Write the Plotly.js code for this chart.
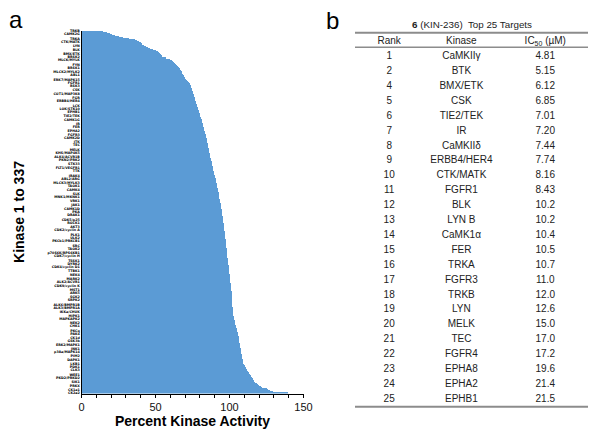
<!DOCTYPE html>
<html>
<head>
<meta charset="utf-8">
<script src="https://cdn.plot.ly/plotly-3.0.1.min.js"></script>
<style>html,body{margin:0;padding:0;background:#fff}#chart{width:601px;height:438px}</style>
</head>
<body>
<div id="chart"></div>
<script>
// ---- Panel a: percent kinase activity, kinases 1..337 (top = most inhibited) ----
const activity = [
14.5, 17.2, 19.0, 20.6, 22.4, 25.1, 28.0, 31.5, 36.0,
37.1, 38.2, 39.6, 40.8, 42.0, 43.3, 44.7, 46.0,
48.2, 50.1, 51.6, 52.3, 52.9, 53.4, 53.9, 54.3, 57.0, 59.7,
60.6, 61.4, 62.2, 63.0, 63.6, 64.2, 64.8, 65.3, 65.9, 66.4,
66.8, 67.3, 67.7, 68.1, 68.6, 69.0, 69.4, 69.8, 70.5, 71.2, 71.8, 72.3, 72.8, 73.2,
73.5, 73.7, 74.0, 74.2, 74.5, 74.7, 75.0, 75.2, 75.4, 75.6, 75.9, 76.1, 76.3, 76.6, 76.8, 77.0, 77.2, 77.4, 77.7, 77.9,
78.1, 78.4, 78.6, 78.8, 79.0, 79.3, 79.5, 79.7, 79.9,
80.2, 80.5, 80.8, 81.1, 81.2, 81.3, 81.5, 81.6, 81.8, 81.9,
82.1, 82.4, 82.6, 82.9, 83.1, 83.3, 83.5, 83.7, 83.9,
84.0, 84.2, 84.3, 84.5, 84.6, 84.8, 84.9, 85.0, 85.2, 85.3,
85.5, 85.6, 85.8, 86.0, 86.1, 86.3, 86.5, 86.6, 86.8, 87.0, 87.1, 87.3, 87.5, 87.6, 87.8,
88.0, 88.1, 88.3, 88.5, 88.7, 88.8, 89.0, 89.2, 89.3, 89.5, 89.7, 89.8, 90.0,
90.2, 90.3, 90.5, 90.7, 90.8, 91.0, 91.2, 91.3, 91.5, 91.7, 91.8, 92.0,
92.1, 92.3, 92.4, 92.5, 92.7, 92.8, 92.9, 93.1, 93.2, 93.3, 93.4, 93.6, 93.7, 93.8, 94.0, 94.1, 94.2, 94.4, 94.5,
94.6, 94.7, 94.8, 94.9, 95.0, 95.1, 95.2, 95.3, 95.4, 95.5, 95.6, 95.7, 95.8, 95.9, 96.0, 96.1, 96.1, 96.2, 96.3, 96.4, 96.5, 96.6, 96.6, 96.7, 96.8,
96.9, 97.0, 97.1, 97.2, 97.3, 97.3, 97.4, 97.5, 97.6, 97.7, 97.8, 97.8, 97.9, 98.0, 98.1, 98.2, 98.2, 98.3, 98.4, 98.5, 98.6, 98.6, 98.7, 98.8,
98.9, 99.0, 99.1, 99.2, 99.3, 99.4, 99.5, 99.5, 99.6, 99.7, 99.8, 99.9, 100.0, 100.0, 100.1, 100.2, 100.3, 100.4, 100.5, 100.5, 100.6, 100.7, 100.8, 100.9, 101.0, 101.1, 101.2, 101.3,
101.3, 101.3, 101.4, 101.4, 101.4, 101.5, 101.5, 101.5, 101.6, 101.6, 101.6, 101.6, 101.7, 101.7, 101.7, 101.8, 101.8, 101.8,
102.0, 102.2, 102.4, 102.6, 102.8, 103.0, 103.2, 103.4, 103.5, 103.7, 103.9, 104.1, 104.3, 104.5, 104.6, 104.8,
105.0, 105.1, 105.3, 105.5, 105.6, 105.8, 106.0, 106.1, 106.2, 106.3, 106.4, 106.5, 106.6, 106.7, 106.9, 107.0,
107.1, 107.3, 107.4, 107.6, 107.7, 107.9, 108.0, 108.1, 108.3, 108.4, 108.5, 108.6, 108.8, 108.9, 109.0,
109.5, 110.0, 110.5, 111.0, 111.4, 111.8, 112.2, 112.6, 113.1, 113.5, 114.0, 114.5, 115.0,
115.5, 116.0, 116.5, 117.0, 118.0, 118.8, 119.5, 120.7, 121.8, 125.0, 126.0, 126.8, 129.0, 139.0
];

// kinase names shown on the category axis (only a subset of the 337 is labelled)
const kinaseLabels = [
"TRKB","CAMK2G","TRKA","CTK/MATK","LYN","BLK","BMX/ETK","BRSK2","MLCK/MYLK","FYN",
"BRSK1","MLCK2/MYLK2","ABL1","ERK7/MAPK15","FGFR1","RSK3","CSK","COT1/MAP3K8","FGR","ERBB4/HER4",
"LCK","LOK/STK10","EPHB1","TIE2/TEK","CAMK1G","IR","FER","EPHA2","FGFR3","CAMK2D",
"ITK","TEC","MELK","KHS/MAP4K5","ALK4/ACVR1B","PKN2/PRK2","STK33","FLT1/VEGFR1","TTK","IRAK4",
"ABL2/ARG","MLCK3/MYLK3","TAOK1","CAMK4","SLK","MNK1/MKNK1","VRK1","JAK1","CAMK1D","PKA",
"DRAK1","CDK5/p25","ROCK1","AKT3","CDK2/cyclin A","PLK1","ULK2","PKCb1/PRKCB1","SRC","TAOK2",
"p70S6K/RPS6KB1","CDK7/cyclin H","TSSK1","DYRK2","CDK4/cyclin D1","TTBK1","NEK4","MARK2","ALK2/ACVR1","CDK9/cyclin K",
"MST1","ARK5","SGK2","SRPK2","ALK6/BMPR1B","ALK3/BMPR1A","IKKa/CHUK","HIPK1","MAPKAPK2","NEK2",
"CHK1","PKCq","PAK4","CK1d","GSK3b","ERK2/MAPK1","JNK1","p38a/MAPK14","PIM2","DAPK1",
"LKB1","PDK1","CLK3","WEE1","PKD2/PRKD2","SIK1","PRKX","CK1a1","CK2a2"
];

const xTickVals = [0, 50, 100, 150];
const xTickText = ["0", "50", "100", "150"];

// ---- Panel b: top 25 targets table ----
const tableTitle = "<b>6</b> (KIN-236)  Top 25 Targets";
const headers = ["Rank", "Kinase", "IC<sub>50</sub> (µM)"];
const ranks = [1,2,4,5,6,7,8,9,10,11,12,13,14,15,16,17,18,19,20,21,22,23,24,25];
const kinases = ["CaMKIIγ","BTK","BMX/ETK","CSK","TIE2/TEK","IR","CaMKIIδ","ERBB4/HER4","CTK/MATK","FGFR1",
  "BLK","LYN B","CaMK1α","FER","TRKA","FGFR3","TRKB","LYN","MELK","TEC","FGFR4","EPHA8","EPHA2","EPHB1"];
const ic50 = [4.81,5.15,6.12,6.85,7.01,7.20,7.44,7.74,8.16,8.43,10.2,10.2,10.4,10.5,10.7,11.0,12.0,12.6,15.0,17.0,17.2,19.6,21.4,21.5];

// ---------------- build ----------------
const FONT = "Liberation Sans, Arial, sans-serif";
const W = 601, H = 438;
const idx = activity.map((_, i) => i + 1);
const n = activity.length;
const labelPos = kinaseLabels.map((_, k) => 1 + Math.round(k * (n - 1) / (kinaseLabels.length - 1)));

const colPos = [0.44, 1.37, 2.45];   // column centres on the hidden table axis
const tx = [], ty = [], tt = [];
headers.forEach((h, c) => { tx.push(colPos[c]); ty.push(-1); tt.push(h); });
ranks.forEach((r, k) => {
  tx.push(colPos[0]); ty.push(k); tt.push(String(r));
  tx.push(colPos[1]); ty.push(k); tt.push(kinases[k]);
  tx.push(colPos[2]); ty.push(k); tt.push(ic50[k].toPrecision(3));
});

const traces = [
  {
    type: "bar", orientation: "h", x: activity, y: idx,
    marker: {color: "#5B9BD5", line: {width: 0}},
    xaxis: "x", yaxis: "y", hoverinfo: "x+y"
  },
  {
    type: "scatter", mode: "text", x: tx, y: ty, text: tt,
    textposition: "middle center",
    textfont: {family: FONT, size: 10, color: "#222"},
    xaxis: "x2", yaxis: "y2", hoverinfo: "skip"
  }
];

const rows = ranks.length;
const layout = {
  width: W, height: H,
  margin: {l: 0, r: 0, t: 0, b: 0},
  paper_bgcolor: "#fff", plot_bgcolor: "rgba(0,0,0,0)",
  showlegend: false,
  bargap: 0,
  font: {family: FONT, color: "#000"},
  xaxis: {
    domain: [81.5 / W, 303.5 / W], anchor: "y",
    range: [0, 150], showgrid: false, zeroline: false,
    showline: true, linecolor: "#000", linewidth: 1,
    ticks: "outside", ticklen: 3, tickcolor: "#000", tickwidth: 1,
    tickmode: "array", tickvals: xTickVals, ticktext: xTickText,
    minor: {dtick: 10, tick0: 0, ticks: "outside", ticklen: 3, tickcolor: "#000", tickwidth: 1, showgrid: false},
    tickfont: {family: FONT, size: 11, color: "#111"},
    automargin: false,
    title: {text: "<b>Percent Kinase Activity</b>", font: {family: FONT, size: 14, color: "#000"}, standoff: 3}
  },
  yaxis: {
    domain: [1 - 393.5 / H, 1 - 30.5 / H], anchor: "x",
    range: [n + 0.5, 0.5], showgrid: false, zeroline: false,
    showline: true, linecolor: "#000", linewidth: 1,
    ticks: "", tickmode: "array", tickvals: labelPos, ticktext: kinaseLabels,
    tickfont: {family: "DejaVu Sans, sans-serif", size: 3.3, color: "#000", weight: "bold"},
    automargin: false,
    title: {text: "<b>Kinase 1 to 337</b>", font: {family: FONT, size: 14, color: "#000"}, standoff: 19}
  },
  xaxis2: {
    domain: [355 / W, 588 / W], anchor: "y2", range: [0, 3], visible: false, fixedrange: true
  },
  yaxis2: {
    domain: [1 - (56.7 + 24 * 14.9) / H, 1 - (56.7 - 2.5 * 14.9) / H], anchor: "x2",
    range: [24, -2.5], visible: false, fixedrange: true
  },
  shapes: [
    {type: "line", xref: "x2", yref: "y2", x0: 0, x1: 3, y0: -1.6, y1: -1.6, line: {color: "#8c8c8c", width: 2}},
    {type: "line", xref: "x2", yref: "y2", x0: 0, x1: 3, y0: -0.63, y1: -0.63, line: {color: "#8c8c8c", width: 1.5}},
    {type: "line", xref: "x2", yref: "y2", x0: 0, x1: 3, y0: rows - 0.5, y1: rows - 0.5, line: {color: "#8c8c8c", width: 2}}
  ],
  annotations: [
    {xref: "x2", yref: "y2", x: 1.5, y: -2.15, text: tableTitle, showarrow: false,
     font: {family: FONT, size: 9.8, color: "#222"}, xanchor: "center", yanchor: "middle"},
    {xref: "paper", yref: "paper", x: 16 / W, y: 1 - 19 / H, text: "a", showarrow: false,
     font: {family: FONT, size: 24, color: "#000"}, xanchor: "center", yanchor: "middle"},
    {xref: "paper", yref: "paper", x: 333 / W, y: 1 - 20 / H, text: "b", showarrow: false,
     font: {family: FONT, size: 24, color: "#000"}, xanchor: "center", yanchor: "middle"}
  ]
};

Plotly.newPlot("chart", traces, layout, {displayModeBar: false, responsive: false});
</script>
</body>
</html>
